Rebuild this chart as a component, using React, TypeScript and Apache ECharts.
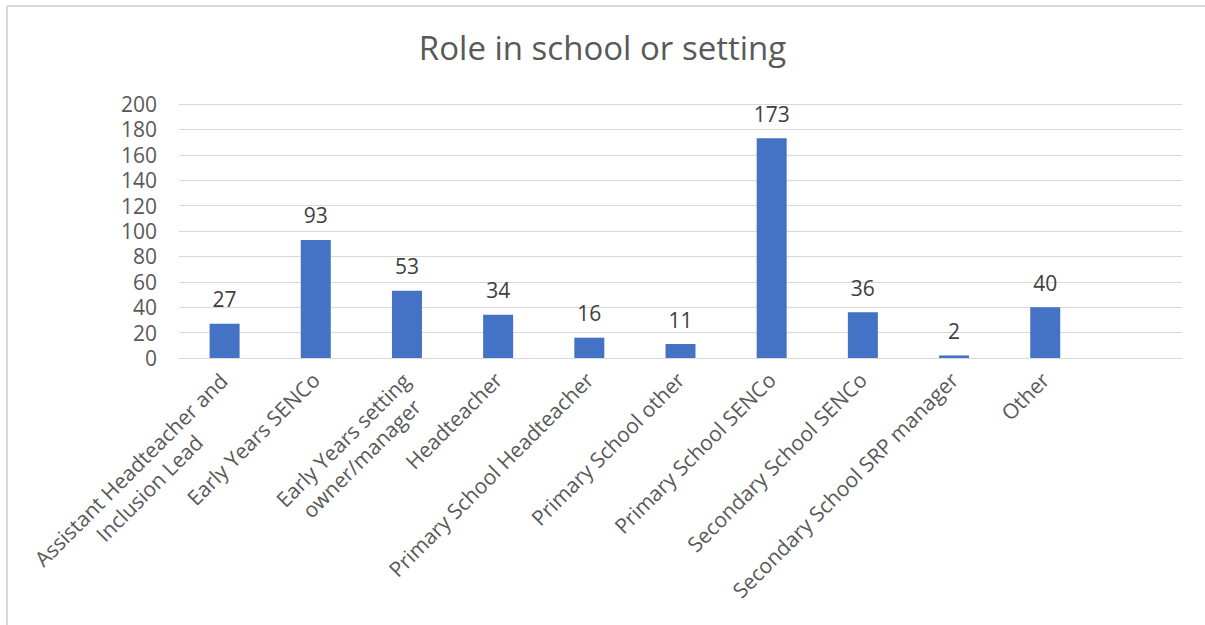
import React, { useEffect, useRef } from "react";
import * as echarts from "echarts";

const categories: string[] = [
  "Assistant Headteacher and\nInclusion Lead",
  "Early Years SENCo",
  "Early Years setting\nowner/manager",
  "Headteacher",
  "Primary School Headteacher",
  "Primary School other",
  "Primary School SENCo",
  "Secondary School SENCo",
  "Secondary School SRP manager",
  "Other",
  "",
];
const values: (number | null)[] = [27, 93, 53, 34, 16, 11, 173, 36, 2, 40, null];
const yMin = 0;
const yMax = 200;
const yStep = 20;
const title = "Role in school or setting";

const FONT = '"Open Sans", "Noto Sans", sans-serif';
const LABEL_SIZE = 21;
const LINE_H = 26;

function measure(text: string): number {
  const c = document.createElement("canvas");
  const ctx = c.getContext("2d")!;
  ctx.font = `${LABEL_SIZE}px ${FONT}`;
  return ctx.measureText(text).width;
}

export default function App() {
  const ref = useRef<HTMLDivElement>(null);
  useEffect(() => {
    document.body.style.margin = "0";
    const chart = echarts.init(ref.current!, undefined, { renderer: "svg" });

    const rich: Record<string, any> = {};
    const axisData = categories.map((cat, i) => {
      const lines = cat.split("\n");
      if (lines.length < 2) return cat;
      const w = Math.ceil(Math.max(...lines.map(measure))) + 2;
      rich["c" + i] = {
        width: w,
        align: "center",
        fontSize: LABEL_SIZE,
        fontFamily: FONT,
        color: "#595959",
        lineHeight: LINE_H,
      };
      return {
        value: cat,
        textStyle: { padding: [LINE_H * (lines.length - 1), 0, 0, 0] },
      };
    });

    chart.setOption({
      animation: false,
      backgroundColor: "#ffffff",
      textStyle: { fontFamily: FONT },
      title: {
        text: title,
        left: "center",
        top: 26,
        textStyle: { fontFamily: FONT, fontSize: 33, fontWeight: "normal", color: "#595959" },
      },
      graphic: [
        {
          type: "line",
          shape: { x1: 7, y1: 6, x2: 1205, y2: 6 },
          style: { stroke: "#d9d9d9", lineWidth: 2 },
          silent: true,
        },
        {
          type: "line",
          shape: { x1: 7, y1: 6, x2: 7, y2: 625 },
          style: { stroke: "#d9d9d9", lineWidth: 2 },
          silent: true,
        },
      ],
      grid: { left: 179, right: 23, top: 104, bottom: 267, containLabel: false },
      xAxis: {
        type: "category",
        data: axisData,
        axisLine: { show: true, lineStyle: { color: "#d9d9d9", width: 1 } },
        axisTick: { show: false },
        axisLabel: {
          interval: 0,
          rotate: 45,
          margin: 18,
          color: "#595959",
          fontSize: LABEL_SIZE,
          fontFamily: FONT,
          lineHeight: LINE_H,
          rich,
          formatter: (val: string, idx: number) => {
            const lines = val.split("\n");
            if (lines.length < 2) return val;
            return lines.map((l) => `{c${idx}|${l}}`).join("\n");
          },
        },
      },
      yAxis: {
        type: "value",
        min: yMin,
        max: yMax,
        interval: yStep,
        axisLine: { show: false },
        axisTick: { show: false },
        splitLine: { lineStyle: { color: "#d9d9d9", width: 1 } },
        axisLabel: { color: "#595959", fontSize: LABEL_SIZE, fontFamily: FONT, margin: 22 },
      },
      series: [
        {
          type: "bar",
          data: values,
          barWidth: 30,
          itemStyle: { color: "#4472C4" },
          label: {
            show: true,
            position: "top",
            distance: 14,
            color: "#404040",
            fontSize: LABEL_SIZE,
            fontFamily: FONT,
          },
        },
      ],
    });
    return () => chart.dispose();
  }, []);
  return <div ref={ref} style={{ width: 1205, height: 625, position: "absolute", left: 0, top: 0 }} />;
}
